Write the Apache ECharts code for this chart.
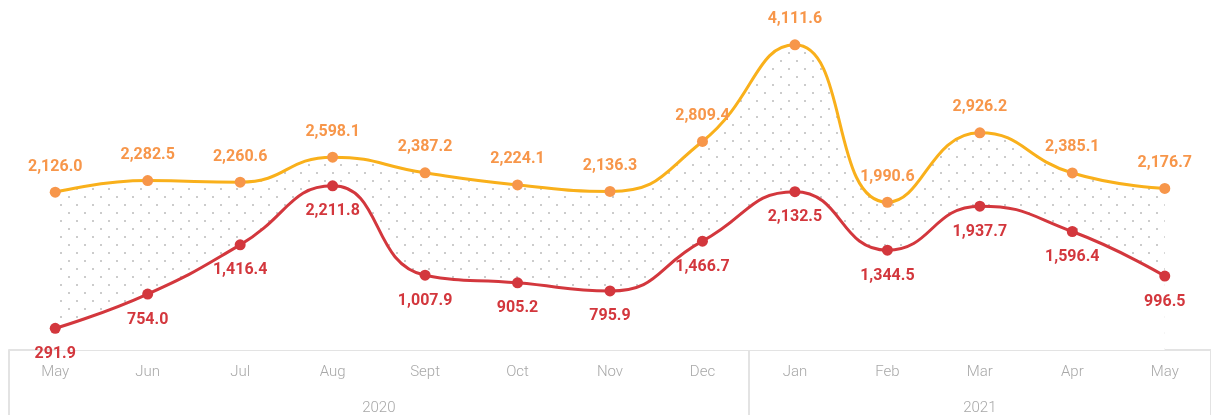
<!DOCTYPE html>
<html>
<head>
<meta charset="utf-8">
<style>
  html, body { margin: 0; padding: 0; background: #fff; }
  #chart { width: 1211px; height: 415px; }
</style>
<script src="https://cdn.jsdelivr.net/npm/echarts@6/dist/echarts.min.js"></script>
</head>
<body>
<div id="chart"></div>
<script>
// dados
const months = ['May', 'Jun', 'Jul', 'Aug', 'Sept', 'Oct', 'Nov', 'Dec', 'Jan', 'Feb', 'Mar', 'Apr', 'May'];
const years = ['2020', '2021'];
const topValues = [2126.0, 2282.5, 2260.6, 2598.1, 2387.2, 2224.1, 2136.3, 2809.4, 4111.6, 1990.6, 2926.2, 2385.1, 2176.7];
const bottomValues = [291.9, 754.0, 1416.4, 2211.8, 1007.9, 905.2, 795.9, 1466.7, 2132.5, 1344.5, 1937.7, 1596.4, 996.5];

const COLOR_ORANGE_LINE = '#f9b01b';
const COLOR_ORANGE = '#f7964a';
const COLOR_RED = '#d3373d';
const COLOR_AXIS = '#e3e3e3';
const COLOR_TEXT = '#a8a8a8';

// padrão de pontinhos entre as linhas
function dotPattern() {
  const c = document.createElement('canvas');
  c.width = 16; c.height = 16;
  const ctx = c.getContext('2d');
  ctx.fillStyle = '#cccccc';
  ctx.fillRect(4, 4, 2, 2);
  ctx.fillRect(12, 12, 2, 2);
  return c;
}

const fmt = v => v.toLocaleString('en-US', { minimumFractionDigits: 1, maximumFractionDigits: 1 });

const labelStyle = color => ({
  show: true,
  fontFamily: 'Roboto',
  fontWeight: 'bold',
  fontSize: 16,
  color: color,
  distance: 12,
  formatter: p => fmt(p.value)
});

const chart = echarts.init(document.getElementById('chart'));
chart.setOption({
  animation: false,
  grid: { top: 16, bottom: 65, left: 9, right: 0, outerBoundsMode: 'none' },
  xAxis: [
    {
      type: 'category',
      data: months,
      position: 'bottom',
      axisLine: { lineStyle: { color: COLOR_AXIS, width: 2 } },
      axisTick: { show: false },
      axisLabel: { color: COLOR_TEXT, fontFamily: 'Roboto', fontWeight: 300, fontSize: 15, margin: 15 }
    },
    {
      type: 'value',
      min: 0,
      max: 13,
      position: 'bottom',
      axisLine: { show: false },
      splitLine: { show: false },
      axisTick: { show: true, customValues: [0, 8, 13], length: 65, lineStyle: { color: COLOR_AXIS, width: 2 } },
      axisLabel: {
        customValues: [4, 10.5],
        color: COLOR_TEXT, fontFamily: 'Roboto', fontWeight: 300, fontSize: 15, margin: 51,
        formatter: v => (v < 8 ? years[0] : years[1])
      }
    }
  ],
  yAxis: { type: 'value', min: 0, max: 4500, show: false, splitLine: { show: false } },
  series: [
    {
      name: 'top',
      type: 'line',
      data: topValues,
      smooth: true,
      symbol: 'circle',
      symbolSize: 11,
      lineStyle: { color: COLOR_ORANGE_LINE, width: 3 },
      itemStyle: { color: COLOR_ORANGE },
      areaStyle: { color: { image: dotPattern(), repeat: 'repeat' }, opacity: 1 },
      label: Object.assign(labelStyle(COLOR_ORANGE), { position: 'top' }),
      z: 2
    },
    {
      name: 'bottom',
      type: 'line',
      data: bottomValues,
      smooth: true,
      symbol: 'circle',
      symbolSize: 11,
      lineStyle: { color: COLOR_RED, width: 3 },
      itemStyle: { color: COLOR_RED },
      areaStyle: { color: '#ffffff', opacity: 1 },
      label: Object.assign(labelStyle(COLOR_RED), { position: 'bottom' }),
      z: 3
    }
  ]
});

window.addEventListener('resize', () => chart.resize());
</script>
</body>
</html>
